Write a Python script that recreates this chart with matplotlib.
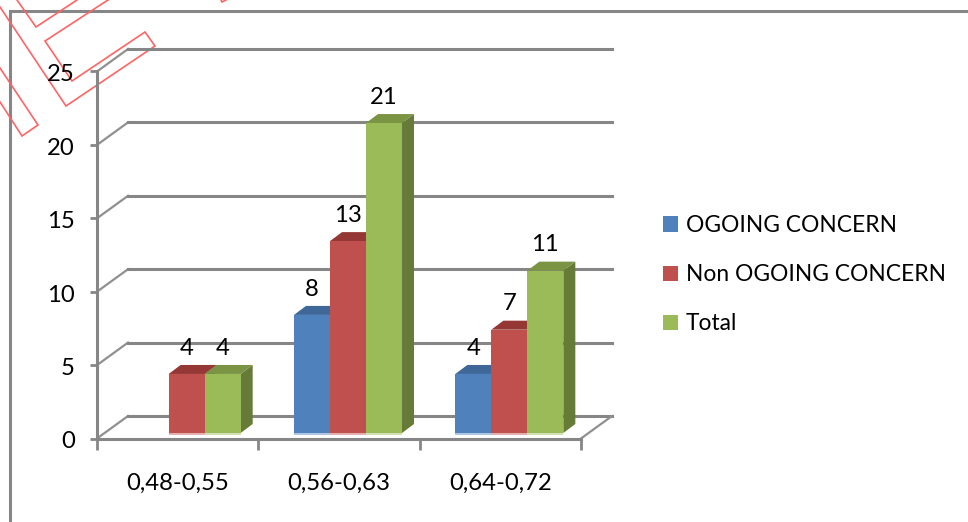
import matplotlib.pyplot as plt
from matplotlib.patches import Patch, Polygon
from matplotlib.transforms import ScaledTranslation

W, H = 968, 522

categories = ['0,48-0,55', '0,56-0,63', '0,64-0,72']
ongoing = [0, 8, 4]
non_ongoing = [4, 13, 7]
total = [4, 21, 11]
series_names = ['OGOING CONCERN', 'Non OGOING CONCERN', 'Total']
y_ticks = [0, 5, 10, 15, 20, 25]

# front, top and side face colours per series
front_cols = ['#4F81BD', '#C0504D', '#9BBB59']
top_cols = ['#3F6797', '#953735', '#7A9444']
side_cols = ['#385D8A', '#8C3836', '#657B37']
gray = '#868686'

plt.rcParams['font.family'] = ['Lato', 'DejaVu Sans']
FS = 17.2
LEGEND_FS = 16.4


def ax_rect(left, right, bottom, top):
    return [left / W, 1 - bottom / H, (right - left) / W, (bottom - top) / H]


fig = plt.figure(figsize=(W / 100, H / 100), dpi=100)

# outer frame of the chart area, in figure pixels
bg = fig.add_axes([0, 0, 1, 1])
bg.set_xlim(0, W)
bg.set_ylim(H, 0)
bg.axis('off')
bg.plot([10, 10, W], [H, 11, 11], color=gray, lw=2.2, solid_joinstyle='miter')

# stamp outlines in the top left corner
stamp = [
    [(17, 0), (36, 27), (77, 0)],
    [(108, 0), (45, 41), (72, 81), (145, 32), (155, 46), (66, 106), (0, 7)],
    [(0, 68), (38, 125), (22, 136), (0, 102)],
    [(221, 0), (222, 2), (226, 0)],
]
for s in stamp:
    bg.plot([p[0] for p in s], [p[1] for p in s], color='#FF6464', lw=1.2,
            zorder=6, solid_joinstyle='miter')

# axes with the walls and the floor
ax = fig.add_axes(ax_rect(97, 581, 438.5, 71.5))
ax.patch.set_alpha(0)
ax.set_xlim(0, 3)
ax.set_ylim(0, 25)
for s in ['top', 'right']:
    ax.spines[s].set_visible(False)
for s in ['left', 'bottom']:
    ax.spines[s].set_color(gray)
    ax.spines[s].set_linewidth(2.2)

ax.set_yticks(y_ticks)
ax.set_xticks([0, 1, 2, 3])
ax.set_xticklabels([])
ax.set_xticks([0.5, 1.5, 2.5], minor=True)
ax.set_xticklabels(categories, minor=True)
ax.tick_params(axis='y', length=5, width=2, color=gray, pad=11, labelsize=FS)
ax.tick_params(axis='x', which='major', length=8, width=2, color=gray)
ax.tick_params(axis='x', which='minor', length=0, pad=24.5, labelsize=FS)

# nudge the value labels down a little
nudge = ScaledTranslation(0, -1.0 / 72, fig.dpi_scale_trans)
for t in ax.get_yticklabels():
    t.set_transform(t.get_transform() + nudge)

# wall offset
dx = 31 * 3 / 484
dy = 22.5 * 25 / 367
for v in y_ticks:
    ax.plot([0, dx], [v, v + dy], color='#909090', lw=1.6, clip_on=False, zorder=1)
    ax.plot([dx, 3 + dx], [v + dy, v + dy], color=gray, lw=2.2, clip_on=False, zorder=1)
ax.plot([3, 3 + dx], [0, dy], color='#909090', lw=1.6, clip_on=False, zorder=1)

# bars stand on the floor, a bit behind the front edge
bx = fig.add_axes(ax_rect(106, 590, 433, 64))
bx.patch.set_alpha(0)
bx.set_xlim(0, 3)
bx.set_ylim(0, 25)
bx.axis('off')

bar_w = 36 / (484 / 3)
depth_x = 12 / (484 / 3)
depth_y = 9 / (369 / 25)
fringe = 1.5 / (369 / 25)

for i, values in enumerate([ongoing, non_ongoing, total]):
    for j, v in enumerate(values):
        if v == 0:
            continue
        x0 = j + 0.5 + (i - 1.5) * bar_w
        x1 = x0 + bar_w
        bx.add_patch(Polygon([(x1, 0), (x1 + depth_x, depth_y), (x1 + depth_x, v + depth_y), (x1, v)],
                             closed=True, fc=side_cols[i], ec='none', clip_on=False))
        bx.add_patch(Polygon([(x0, v), (x0 + depth_x, v + depth_y), (x1 + depth_x, v + depth_y), (x1, v)],
                             closed=True, fc=top_cols[i], ec='none', clip_on=False))
        bx.bar(x0, v, width=bar_w, align='edge', color=front_cols[i], clip_on=False)
        bx.bar(x0, fringe, bottom=-fringe, width=bar_w, align='edge', color=front_cols[i],
               alpha=0.45, clip_on=False)
        bx.annotate(str(v), (x0 + bar_w / 2, v), xytext=(0, 18.5), textcoords='offset points',
                    ha='center', va='center', fontsize=FS, color='black', zorder=5)

handles = [Patch(fc=c, ec='none') for c in front_cols]
fig.legend(handles, series_names, loc='upper left', bbox_to_anchor=(663 / W, 1 - 215 / H),
           frameon=False, fontsize=LEGEND_FS, handlelength=0.65, handleheight=0.65,
           handletextpad=0.36, labelspacing=1.24, borderpad=0, borderaxespad=0)

fig.savefig('out.png', dpi=100)
